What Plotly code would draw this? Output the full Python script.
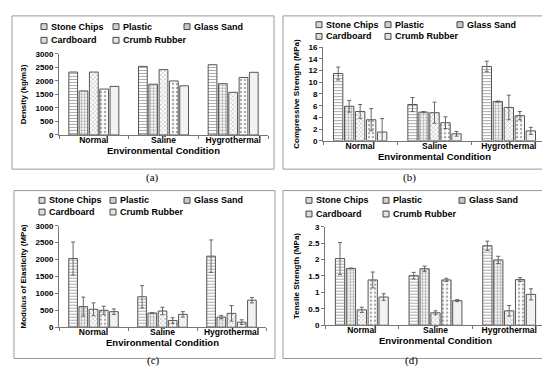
import plotly.graph_objects as go

W, H = 550, 374
categories = ["Normal", "Saline", "Hygrothermal"]
series = ["Stone Chips", "Plastic", "Glass Sand", "Cardboard", "Crumb Rubber"]

# (a) Density (kg/m3)
density = {
    "Stone Chips": [2330, 2540, 2600],
    "Plastic": [1630, 1880, 1900],
    "Glass Sand": [2330, 2420, 1580],
    "Cardboard": [1700, 2000, 2130],
    "Crumb Rubber": [1800, 1820, 2320],
}
# (b) Compressive strength (MPa) and error
comp = {
    "Stone Chips": [11.5, 6.2, 12.7],
    "Plastic": [5.9, 4.9, 6.7],
    "Glass Sand": [5.0, 4.8, 5.7],
    "Cardboard": [3.6, 3.1, 4.3],
    "Crumb Rubber": [1.5, 1.2, 1.7],
}
comp_err = {
    "Stone Chips": [1.1, 1.2, 0.9],
    "Plastic": [1.0, 0.1, 0.1],
    "Glass Sand": [1.2, 1.8, 2.1],
    "Cardboard": [1.9, 1.0, 0.7],
    "Crumb Rubber": [2.3, 0.4, 0.6],
}
# (c) Modulus of elasticity (MPa) and error
mod = {
    "Stone Chips": [2030, 900, 2100],
    "Plastic": [610, 420, 300],
    "Glass Sand": [530, 480, 410],
    "Cardboard": [500, 200, 150],
    "Crumb Rubber": [460, 380, 800],
}
mod_err = {
    "Stone Chips": [490, 330, 480],
    "Plastic": [280, 10, 50],
    "Glass Sand": [190, 110, 230],
    "Cardboard": [120, 80, 70],
    "Crumb Rubber": [80, 80, 80],
}
# (d) Tensile strength (MPa) and error
tens = {
    "Stone Chips": [2.03, 1.51, 2.42],
    "Plastic": [1.73, 1.72, 1.99],
    "Glass Sand": [0.47, 0.38, 0.44],
    "Cardboard": [1.38, 1.38, 1.39],
    "Crumb Rubber": [0.86, 0.75, 0.94],
}
tens_err = {
    "Stone Chips": [0.49, 0.10, 0.14],
    "Plastic": [0.01, 0.08, 0.11],
    "Glass Sand": [0.08, 0.06, 0.16],
    "Cardboard": [0.24, 0.05, 0.06],
    "Crumb Rubber": [0.10, 0.03, 0.17],
}

patterns = {
    "Stone Chips": dict(shape="-", size=3, solidity=0.35, fgcolor="#555555"),
    "Plastic": dict(shape=".", size=3, solidity=0.45, fgcolor="#555555"),
    "Glass Sand": dict(shape="x", size=3, solidity=0.3, fgcolor="#555555"),
    "Cardboard": dict(shape=".", size=4, solidity=0.3, fgcolor="#555555"),
    "Crumb Rubber": dict(shape=".", size=2, solidity=0.3, fgcolor="#888888"),
}
symbol_fill = {
    "Stone Chips": "#d8d8d8",
    "Plastic": "#cfcfcf",
    "Glass Sand": "#c8c8c8",
    "Cardboard": "#dddddd",
    "Crumb Rubber": "#e4e4e4",
}

FONT = "Liberation Sans, Arial, sans-serif"

def px_x(p):
    return p / W

def px_y(p):
    return 1 - p / H

panels = [
    dict(data=density, err=None, ytitle="Density (kg/m3)", yr=[0, 3000], dtick=500,
         box=(51, 260, 43, 126), rows=(15, 29), cols=(33, 105, 176)),
    dict(data=comp, err=comp_err, ytitle="Compressive Strength (MPa)", yr=[0, 16], dtick=2,
         box=(315, 538, 36, 132), rows=(13, 25), cols=(308, 377, 449)),
    dict(data=mod, err=mod_err, ytitle="Modulus of Elasticity (MPa)", yr=[0, 3000], dtick=500,
         box=(51, 258, 219, 323), rows=(193, 205), cols=(31, 102, 176)),
    dict(data=tens, err=tens_err, ytitle="Tensile Strength (MPa)", yr=[0, 3], dtick=0.5,
         box=(317, 538, 220, 321), rows=(193, 207), cols=(298, 375, 451)),
]
legend_slots = [(0, 0), (0, 1), (0, 2), (1, 0), (1, 1)]

fig = go.Figure()
layout = dict(
    width=W, height=H, margin=dict(l=0, r=0, t=0, b=0),
    paper_bgcolor="white", plot_bgcolor="white",
    barmode="group", bargap=0.26, bargroupgap=0.15,
    font=dict(family=FONT, color="black"),
    showlegend=False,
    shapes=[], annotations=[],
)

for i, p in enumerate(panels):
    ax = "" if i == 0 else str(i + 1)
    for j, s in enumerate(series):
        err = None
        if p["err"] is not None:
            err = dict(type="data", array=p["err"][s], visible=True, color="#666666",
                       thickness=1, width=2)
        fig.add_trace(go.Bar(
            x=categories, y=p["data"][s], name=s,
            xaxis="x" + ax, yaxis="y" + ax,
            marker=dict(color="white", line=dict(color="#555555", width=1),
                        pattern=patterns[s]),
            error_y=err,
        ))
        # legend entry: small square + label
        r, c = legend_slots[j]
        sx = p["cols"][c]
        sy = p["rows"][r]
        layout["shapes"].append(dict(
            type="rect", xref="paper", yref="paper",
            x0=px_x(sx), x1=px_x(sx + 6), y0=px_y(sy + 3), y1=px_y(sy - 3),
            line=dict(color="#444444", width=1), fillcolor=symbol_fill[s],
        ))
        layout["annotations"].append(dict(
            text=s, x=px_x(sx + 8), y=px_y(sy), xref="paper", yref="paper",
            xanchor="left", yanchor="middle", showarrow=False,
            font=dict(size=9, family=FONT, weight="bold"),
        ))
    x0, x1, yt, yb = p["box"]
    layout["xaxis" + ax] = dict(
        domain=[px_x(x0), px_x(x1)], anchor="y" + ax,
        showline=True, linecolor="#777777", linewidth=1,
        ticks="outside", tickson="boundaries", ticklen=3, tickcolor="#777777",
        tickangle=0, ticklabelstandoff=-3,
        tickfont=dict(size=8.5, family=FONT, weight="bold"),
        title=dict(text="Environmental Condition", standoff=0,
                   font=dict(size=9.5, family=FONT, weight="bold")),
        showgrid=False, fixedrange=True,
    )
    layout["yaxis" + ax] = dict(
        domain=[px_y(yb), px_y(yt)], anchor="x" + ax,
        range=p["yr"], dtick=p["dtick"],
        showline=True, linecolor="#777777", linewidth=1,
        ticks="outside", ticklen=3, tickcolor="#777777",
        tickfont=dict(size=8, family=FONT, weight="bold"),
        title=dict(text=p["ytitle"], standoff=7,
                   font=dict(size=8, family=FONT, weight="bold")),
        showgrid=False, zeroline=False, fixedrange=True,
    )

# panel borders
borders = [(4, 4, 266, 161), (275, 4, 547, 161), (6, 183, 267, 355), (275, 183, 547, 355)]
for (bx0, by0, bx1, by1) in borders:
    layout["shapes"].append(dict(
        type="rect", xref="paper", yref="paper",
        x0=px_x(bx0), x1=px_x(bx1), y0=px_y(by1), y1=px_y(by0),
        line=dict(color="#999999", width=1), fillcolor="rgba(0,0,0,0)", layer="below",
    ))

captions = [("(a)", 136, 170), ("(b)", 410, 170), ("(c)", 137, 366), ("(d)", 412, 366)]
for txt, cx, cy in captions:
    layout["annotations"].append(dict(
        text=txt, x=px_x(cx), y=px_y(cy), xref="paper", yref="paper",
        showarrow=False, font=dict(family="Liberation Serif, Times New Roman, serif", size=11),
    ))

fig.update_layout(**layout)
fig.write_html("out.html")
